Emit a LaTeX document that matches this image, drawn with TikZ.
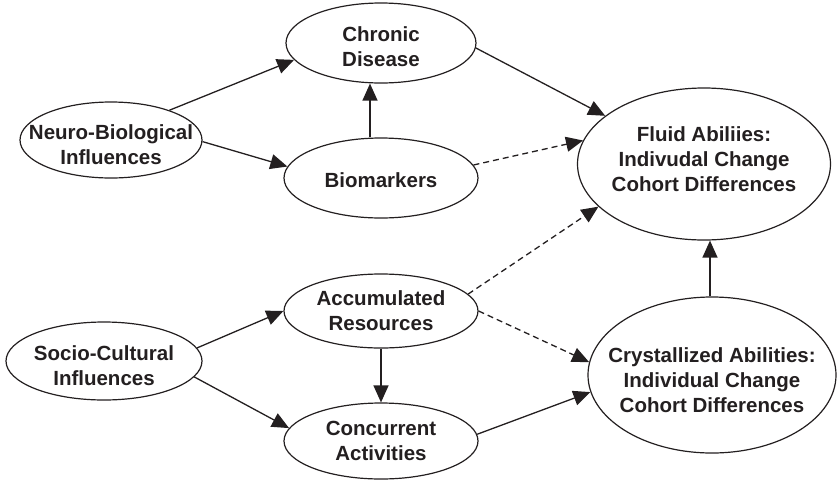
\documentclass[tikz,border=0pt]{standalone}
\usepackage{fontspec}
\setmainfont{Liberation Sans}
\usetikzlibrary{arrows.meta,shapes.geometric}
\definecolor{ink}{RGB}{35,31,32}
\tikzset{
  ell/.style={ellipse, draw=ink, line width=1.2pt, inner sep=0pt},
  lbl/.style={font=\fontsize{20.5pt}{25pt}\selectfont\bfseries, text=ink, align=center, inner sep=0pt},
  arr/.style={draw=ink, line width=1.3pt, -{Triangle[length=17pt,width=15pt]}},
  darr/.style={arr, dash pattern=on 6pt off 4pt}
}
\begin{document}
\begin{tikzpicture}[x=1pt,y=-1pt]
\useasboundingbox (0,0) rectangle (839,483);
\node[ell, minimum width=182pt, minimum height=76pt, label={[lbl,yshift=-5pt]center:Neuro-Biological\\Influences}] (neuro) at (111,140) {};
\node[ell, minimum width=196pt, minimum height=78pt, label={[lbl,yshift=-5pt]center:Socio-Cultural\\Influences}] (socio) at (104,361) {};
\node[ell, minimum width=190pt, minimum height=80pt, label={[lbl,yshift=-4pt]center:Chronic\\Disease}] (chronic) at (381,43) {};
\node[ell, minimum width=194pt, minimum height=80pt, label={[lbl,yshift=-2pt]center:Biomarkers}] (bio) at (381,178) {};
\node[ell, minimum width=194pt, minimum height=74pt, label={[lbl]center:Accumulated\\Resources}] (accum) at (381,311) {};
\node[ell, minimum width=194pt, minimum height=76pt, label={[lbl]center:Concurrent\\Activities}] (concur) at (381,441) {};
\node[ell, minimum width=253pt, minimum height=152pt, label={[lbl,yshift=5pt]center:Fluid Abiliies:\\Indivudal Change\\Cohort Differences}] (fluid) at (704,164) {};
\node[ell, minimum width=248pt, minimum height=156pt, label={[lbl,yshift=-5pt]center:Crystallized Abilities:\\Individual Change\\Cohort Differences}] (crystal) at (712,375) {};

\draw[arr] (neuro.27) -- (chronic.191);
\draw[arr] (neuro.-1) -- (bio.173);
\draw[arr] ([xshift=-11pt]bio.north) -- ([xshift=-11pt]chronic.south);
\draw[arr] (chronic.-3) -- (fluid.154);
\draw[darr] (bio.8) -- (fluid.169);
\draw[darr] (accum.11) -- (fluid.202);
\draw[darr] (accum.0) -- (crystal.174);
\draw[arr] (socio.8) -- (accum.180);
\draw[arr] (socio.-10) -- (concur.172);
\draw[arr] (accum.south) -- (concur.north);
\draw[arr] (concur.4) -- (crystal.188);
\draw[arr] ([xshift=-2pt]crystal.north) -- ([xshift=6pt]fluid.south);
\end{tikzpicture}
\end{document}
